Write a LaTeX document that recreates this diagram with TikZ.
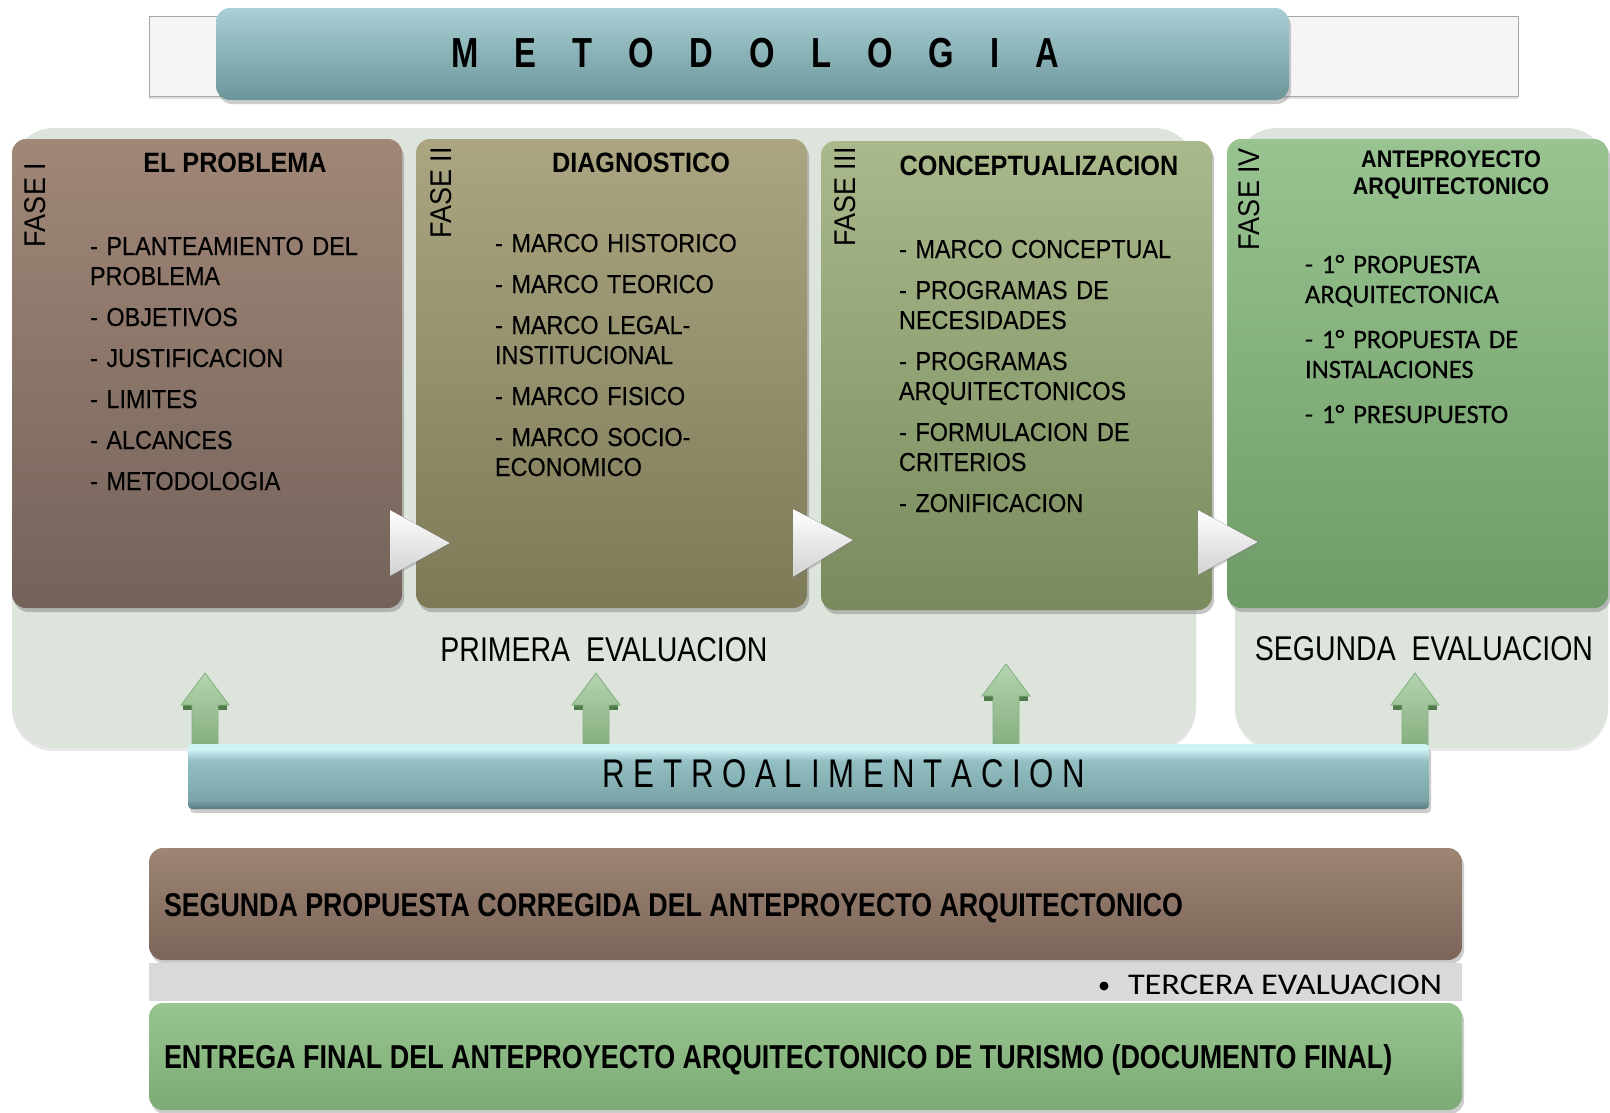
\documentclass[tikz,border=0pt]{standalone}
\usepackage{graphicx}
\usepackage{fontspec}
\setmainfont{Liberation Sans}
\newfontfamily\narA[FakeStretch=0.9]{Liberation Sans}
\newfontfamily\narI[FakeStretch=0.9,FakeBold=0.3]{Liberation Sans}
\newfontfamily\narB[FakeStretch=0.78]{Liberation Sans}
\newfontfamily\calib{Carlito}
\newfontfamily\calibI[FakeBold=0.3]{Carlito}
\usetikzlibrary{shadows}
\definecolor{panelc}{HTML}{DCE4DC}
\definecolor{bat}{HTML}{A08777}\definecolor{bab}{HTML}{74625A}
\definecolor{bbt}{HTML}{ABA581}\definecolor{bbb}{HTML}{7D7A58}
\definecolor{bct}{HTML}{A9B98C}\definecolor{bcb}{HTML}{798B5C}
\definecolor{bdt}{HTML}{99C491}\definecolor{bdb}{HTML}{6E9B67}
\definecolor{mt}{HTML}{A9D0D4}\definecolor{mb}{HTML}{6B9599}
\definecolor{brt}{HTML}{9E8574}\definecolor{brb}{HTML}{7A6558}
\definecolor{grt}{HTML}{98C490}\definecolor{grb}{HTML}{7CAB74}
\definecolor{rbD}{HTML}{577C80}\definecolor{rbM2}{HTML}{7AA4A8}
\definecolor{rbM}{HTML}{93BFC3}\definecolor{rbL}{HTML}{CFF2F5}
\definecolor{arT}{HTML}{B4D4AF}\definecolor{arB}{HTML}{86AF80}
\definecolor{arE}{HTML}{84B07F}\definecolor{arD}{HTML}{4F7A4A}
\pgfdeclareverticalshading{retroshade}{100bp}{color(0bp)=(rbD); color(25bp)=(rbD); color(32bp)=(rbM2); color(62bp)=(rbM); color(71bp)=(rbL); color(75bp)=(rbL); color(100bp)=(rbL)}
\makeatletter
\def\spaceout#1#2{\def\sp@k{#1}\sp@loop#2\@nil}
\def\sp@loop#1#2\@nil{#1\ifx\relax#2\relax\else\kern\sp@k\relax\sp@loop#2\@nil\fi}
\makeatother
\newcommand\UpArrow[3]{%
  \coordinate (#1) at (#2,#3);
  \fill[arD] ({#2-22},{#3+32}) rectangle ({#2+22},{#3+37});
  \path[arrfill] (#1) -- ++(24,32) -- ++(-11,0) -- ({#2+13},745) -- ({#2-13},745) -- ({#2-13},{#3+32}) -- ++(-11,0) -- cycle;}
\begin{document}
\begin{tikzpicture}[x=1pt,y=-1pt,
  every node/.style={inner sep=0pt,outer sep=0pt},
  phase/.style={rounded corners=14pt,drop shadow={shadow xshift=2pt,shadow yshift=-4pt,opacity=0.45}},
  panel/.style={fill=panelc,rounded corners=42pt,drop shadow={shadow xshift=0pt,shadow yshift=-3pt,opacity=0.18}},
  ttl/.style={anchor=base,align=center,font=\narA\bfseries\fontsize{28}{27}\selectfont},
  fase/.style={rotate=90,font=\narA\fontsize{30}{34}\selectfont},
  itemlist/.style={anchor=base west,text width=330pt,align=left,font=\narI\fontsize{26}{30}\selectfont},
  tri/.style={top color=white,bottom color=black!18,drop shadow={shadow xshift=1pt,shadow yshift=-2pt,opacity=0.3}},
  arrfill/.style={top color=arT,bottom color=arB,draw=arE,line width=0.8pt},
  bar/.style={rounded corners=14pt,drop shadow={shadow xshift=2pt,shadow yshift=-4pt,opacity=0.4}}
]
\useasboundingbox (0,0) rectangle (1610,1112);
\fill[white] (0,0) rectangle (1610,1112);

% top title
\node[fill=black!4,draw=black!35,line width=1pt,minimum width=1369pt,minimum height=80pt,
      drop shadow={shadow xshift=0pt,shadow yshift=-3pt,opacity=0.25}] (topbar) at (833.5,56) {};
\node[bar,top color=mt,bottom color=mb,minimum width=1073pt,minimum height=92pt] (metod) at (752.5,54) {};
\node[anchor=base,font=\narB\bfseries\fontsize{42}{46}\selectfont] (metodt) at (755,67) {\spaceout{36pt}{METODOLOGIA}};

% panels
\node[panel,minimum width=1184pt,minimum height=620pt] (panA) at (604,438) {};
\node[panel,minimum width=373pt,minimum height=620pt] (panB) at (1421.5,438) {};

% phase boxes
\node[phase,top color=bat,bottom color=bab,minimum width=390pt,minimum height=469pt] (b1) at (207,373.5) {};
\node[phase,top color=bbt,bottom color=bbb,minimum width=391pt,minimum height=469pt] (b2) at (611.5,373.5) {};
\node[phase,top color=bct,bottom color=bcb,minimum width=391pt,minimum height=469pt] (b3) at (1016.5,375.5) {};
\node[phase,top color=bdt,bottom color=bdb,minimum width=381pt,minimum height=469pt] (b4) at (1417.5,373.5) {};

% triangles between phases
\fill[tri] (390,510) -- (390,576) -- (450,543) -- cycle;
\fill[tri] (793,509) -- (793,577) -- (853,540) -- cycle;
\fill[tri] (1198,510) -- (1198,575) -- (1258,542) -- cycle;

% phase labels
\node[fase] (f1) at (35,205) {FASE I};
\node[fase] (f2) at (441,193) {FASE II};
\node[fase] (f3) at (845,197) {FASE III};
\node[fase] (f4) at (1249,199) {FASE IV};

% titles
\node[ttl] (t1) at (235,172) {EL PROBLEMA};
\node[ttl] (t2) at (641,172) {DIAGNOSTICO};
\node[ttl] (t3) at (1039,175) {CONCEPTUALIZACION};
\node[ttl,font=\narA\bfseries\fontsize{24}{27}\selectfont] (t4) at (1451,194) {ANTEPROYECTO\\ARQUITECTONICO};

% lists
\node[itemlist] (l1) at (90,255) {- PLANTEAMIENTO DEL\\PROBLEMA\\[11pt]- OBJETIVOS\\[11pt]- JUSTIFICACION\\[11pt]- LIMITES\\[11pt]- ALCANCES\\[11pt]- METODOLOGIA};
\node[itemlist] (l2) at (495,252) {- MARCO HISTORICO\\[11pt]- MARCO TEORICO\\[11pt]- MARCO LEGAL-\\INSTITUCIONAL\\[11pt]- MARCO FISICO\\[11pt]- MARCO SOCIO-\\ECONOMICO};
\node[itemlist] (l3) at (899,258) {- MARCO CONCEPTUAL\\[11pt]- PROGRAMAS DE\\NECESIDADES\\[11pt]- PROGRAMAS\\ARQUITECTONICOS\\[11pt]- FORMULACION DE\\CRITERIOS\\[11pt]- ZONIFICACION};
\node[itemlist,font=\calibI\fontsize{26.5}{30}\selectfont] (l4) at (1305,273) {- 1° PROPUESTA\\ARQUITECTONICA\\[15pt]- 1° PROPUESTA DE\\INSTALACIONES\\[15pt]- 1° PRESUPUESTO};

% evaluations
\node[anchor=base] (ev1) at (604,661) {\resizebox{327pt}{24pt}{PRIMERA\ \ EVALUACION}};
\node[anchor=base] (ev2) at (1424,660) {\resizebox{338pt}{24pt}{SEGUNDA\ \ EVALUACION}};

% feedback arrows
\UpArrow{u1}{205}{673}
\UpArrow{u2}{596}{673}
\UpArrow{u3}{1006}{664}
\UpArrow{u4}{1415}{673}

% retroalimentacion bar
\node[shading=retroshade,rounded corners=4pt,minimum width=1241pt,minimum height=65pt,
      drop shadow={shadow xshift=2pt,shadow yshift=-4pt,opacity=0.4}] (retro) at (808.5,776.5) {};
\node[anchor=base,font=\narB\fontsize{40}{44}\selectfont] (retrot) at (844,787) {\spaceout{8.7pt}{RETROALIMENTACION}};

% bottom bars
\node[bar,top color=brt,bottom color=brb,minimum width=1313pt,minimum height=112pt] (seg) at (805.5,904) {};
\node[anchor=base west] (segt) at (164,916) {\resizebox{1019pt}{23pt}{\bfseries SEGUNDA PROPUESTA CORREGIDA DEL ANTEPROYECTO ARQUITECTONICO}};
\node[fill=black!15,minimum width=1313pt,minimum height=38pt] (ter) at (805.5,982) {};
\node[circle,fill=black,minimum size=9pt] (bul) at (1104,986) {};
\node[anchor=base west] (tert) at (1128,994) {\resizebox{314pt}{19.5pt}{\calib TERCERA EVALUACION}};
\node[bar,top color=grt,bottom color=grb,minimum width=1313pt,minimum height=107pt] (ent) at (805.5,1056.5) {};
\node[anchor=base west] (entt) at (164,1068) {\resizebox{1228pt}{24pt}{\bfseries ENTREGA FINAL DEL ANTEPROYECTO ARQUITECTONICO DE TURISMO (DOCUMENTO FINAL)}};
\end{tikzpicture}
\end{document}
